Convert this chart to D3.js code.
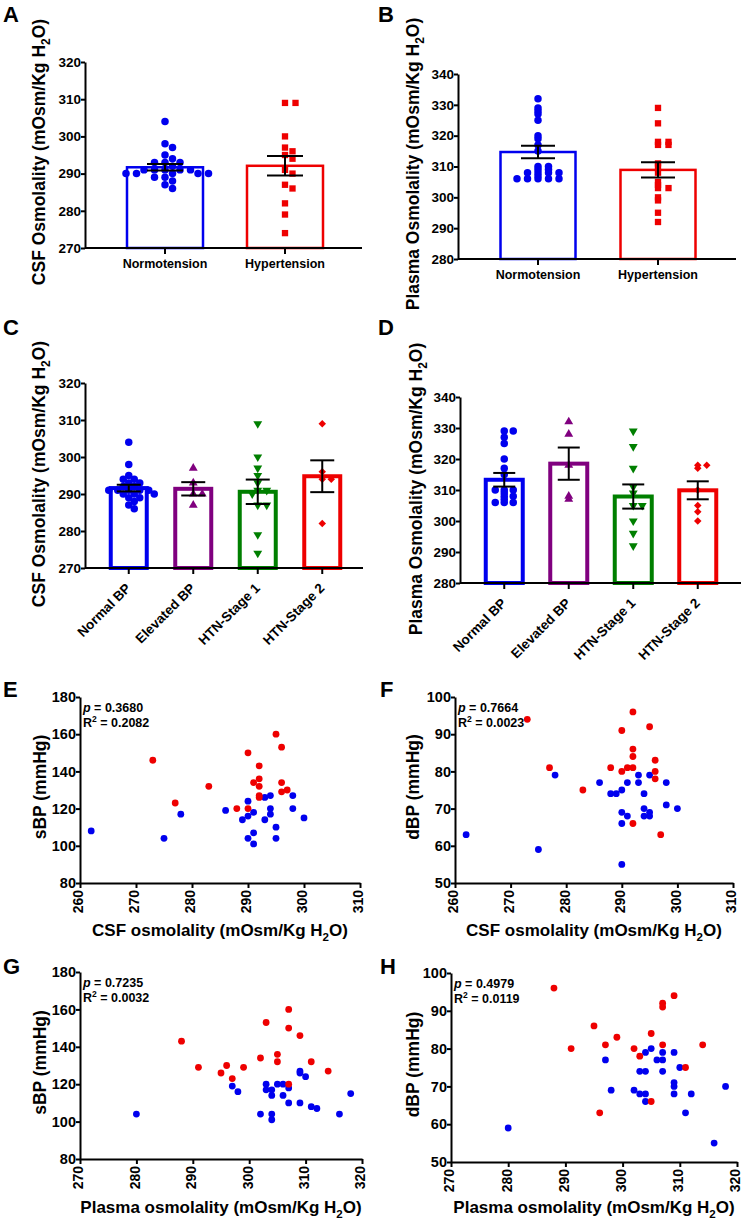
<!DOCTYPE html>
<html>
<head>
<meta charset="utf-8">
<script src="https://cdn.jsdelivr.net/npm/d3@7"></script>
<style>
body { margin: 0; background: #fff; }
svg { display: block; font-family: "Liberation Sans", Arial, sans-serif; font-weight: bold; }
svg text { font-weight: bold; }
</style>
</head>
<body>
<svg id="fig" width="747" height="1225"></svg>
<script>
// ---- values ----
const twoGroups = ["Normotension", "Hypertension"];
const fourGroups = ["Normal BP", "Elevated BP", "HTN-Stage 1", "HTN-Stage 2"];

// A  CSF osmolality by BP status
const csfNormo = [304, 298, 297, 295, 294, 293, 293, 293, 292, 291, 291, 291, 291, 291, 290, 290, 290, 290, 290, 289, 289, 288, 287, 286];
const csfHyper = [309, 309, 300, 297, 296, 295, 294, 291, 290, 287, 286, 282, 279, 274];
const csfMean2 = [291.7, 292.1];
const csfSem2 = [0.9, 2.6];

// B  plasma osmolality by BP status
const plasmaNormo = [332, 329, 328, 327, 325, 320, 319, 317, 315, 310, 310, 309, 309, 308, 308, 308, 308, 307, 306, 306, 306, 306, 306];
const plasmaHyper = [329, 324, 318, 318, 317, 317, 311, 310, 308, 305, 304, 303, 303, 300, 299, 295, 292];
const plasmaMean2 = [314.7, 308.9];
const plasmaSem2 = [2.0, 2.5];

// C  CSF osmolality by BP stage
const csfNormal = [304, 298, 295, 294, 294, 293, 293, 292, 292, 291, 291, 291, 291, 291, 290, 290, 290, 289, 289, 288, 287, 286];
const csfElevated = [297, 293, 290, 290, 287];
const csfStage1 = [309, 300, 297, 295, 293, 291, 291, 290, 287, 287, 279, 274];
const csfStage2 = [309, 296, 294, 294, 282];
const csfMean4 = [291.6, 291.4, 290.6, 294.8];
const csfSem4 = [0.9, 1.8, 3.3, 4.3];

// D  plasma osmolality by BP stage
const plasmaNormal = [329, 329, 327, 325, 320, 317, 315, 310, 310, 310, 309, 308, 308, 307, 306, 306, 306];
const plasmaElevated = [332, 328, 318, 308, 307];
const plasmaStage1 = [329, 324, 317, 311, 309, 305, 305, 300, 296, 292];
const plasmaStage2 = [318, 318, 317, 310, 305, 303, 300];
const plasmaMean4 = [313.3, 318.5, 307.9, 309.9];
const plasmaSem4 = [2.2, 5.2, 3.9, 2.9];

// E  CSF osmolality vs sBP  [osmolality, mmHg]
const csfSbpHyper = [[273,146],[277,123],[283,132],[288,120],[290,150],[290,120],[291,134],[292,143],[292,136],[292,132],[292,127],[292,126],[295,160],[296,153],[296,134],[296,129],[297,130]];
const csfSbpNormo = [[262,108],[275,104],[278,117],[286,119],[289,114],[290,124],[290,116],[290,104],[291,118],[291,107],[291,101],[293,126],[293,114],[294,127],[294,120],[294,117],[295,110],[295,104],[298,127],[298,120],[300,115]];

// F  CSF osmolality vs dBP
const csfDbpHyper = [[273,94],[277,81],[283,75],[288,81],[290,91],[290,80],[291,81],[292,96],[292,86],[292,84],[292,81],[292,66],[295,92],[296,83],[296,80],[296,78],[297,63]];
const csfDbpNormo = [[262,63],[275,59],[278,79],[286,77],[288,74],[289,74],[290,75],[290,69],[290,66],[290,55],[291,77],[291,68],[293,79],[293,77],[294,74],[294,70],[294,68],[295,79],[295,69],[295,68],[298,77],[298,71],[300,70]];

// G  plasma osmolality vs sBP
const plasmaSbpHyper = [[288,143],[291,129],[295,126],[296,130],[297,123],[299,129],[302,134],[303,153],[305,136],[305,132],[307,160],[307,150],[307,120],[309,146],[311,132],[314,127]];
const plasmaSbpNormo = [[280,104],[297,119],[298,116],[302,104],[303,120],[303,117],[304,117],[304,114],[304,104],[304,101],[305,120],[306,120],[306,114],[307,118],[307,110],[309,127],[309,126],[309,110],[310,124],[311,108],[312,107],[316,104],[318,115]];

// H  plasma osmolality vs dBP
const plasmaDbpHyper = [[288,96],[291,80],[295,86],[296,63],[297,81],[299,83],[302,80],[303,78],[305,84],[305,66],[307,92],[307,91],[307,81],[309,94],[311,75],[314,81]];
const plasmaDbpNormo = [[280,59],[297,77],[298,69],[302,69],[303,74],[303,68],[304,79],[304,74],[304,68],[304,66],[305,80],[306,77],[307,79],[307,77],[307,74],[309,79],[309,71],[309,70],[309,68],[310,75],[311,63],[312,68],[316,55],[318,70]];

const stats = {
  E: ["0.3680", "0.2082"], F: ["0.7664", "0.0023"],
  G: ["0.7235", "0.0032"], H: ["0.4979", "0.0119"]
};

// ---- styling ----
const BLUE = "#0000ee", RED = "#ee0000", PURPLE = "#80007f", GREEN = "#007f00";

const svg = d3.select("#fig");
svg.append("rect").attr("width", 747).attr("height", 1225).attr("fill", "#fff");

const symbols = {
  circle: d3.symbol(d3.symbolCircle, 44)(),
  square: d3.symbol(d3.symbolSquare, 40)(),
  triUp: d3.symbol(d3.symbolTriangle, 34)(),
  triDown: d3.symbol(d3.symbolTriangle, 34)(),
  diamond: d3.symbol(d3.symbolSquare, 28)()
};
const symRot = { triDown: 180, diamond: 45 };

function unitTitle(sel, prefix, size) {
  sel.append("tspan").text(prefix + " (mOsm/Kg H");
  sel.append("tspan").attr("font-size", size * 0.68).attr("dy", size * 0.28).text("2");
  sel.append("tspan").attr("dy", -size * 0.28).text("O)");
}

function letter(x, y, t) {
  svg.append("text").attr("x", x).attr("y", y).attr("font-size", 22).text(t);
}

// beeswarm: nudge each point sideways until it clears an ellipse (sx wide, sy tall) round the placed ones
function swarm(vals, y, cx, sx, sy) {
  const placed = [];
  return vals.map(v => {
    const cy = y(v);
    for (let k = 0; k < 400; k++) {
      const dx = (k % 2 ? 1 : -1) * Math.ceil(k / 2) * 0.5;
      const ok = placed.every(p => ((p[0] - cx - dx) / sx) ** 2 + ((p[1] - cy) / sy) ** 2 >= 1);
      if (ok) { placed.push([cx + dx, cy]); return [cx + dx, cy]; }
    }
    return [cx, cy];
  });
}

const barPanels = [
  { letter: "A", lx: 3, ly: 22, left: 85, right: 362, top: 62, bottom: 248, band: [105, 345], barW: 76, sw: 2.5, capW: 36,
    domain: [270, 320], step: 10, groups: twoGroups, series: [csfNormo, csfHyper], means: csfMean2, sems: csfSem2,
    colors: [BLUE, RED], shapes: ["circle", "square"], title: "CSF Osmolality", tx: 39, ty: 152, rotate: false, sx: 10.5, sy: 5 },
  { letter: "B", lx: 378, ly: 22, left: 458, right: 736, top: 74, bottom: 259, band: [478, 718], barW: 75, sw: 2.5, capW: 34,
    domain: [280, 340], step: 10, groups: twoGroups, series: [plasmaNormo, plasmaHyper], means: plasmaMean2, sems: plasmaSem2,
    colors: [BLUE, RED], shapes: ["circle", "square"], title: "Plasma Osmolality", tx: 413, ty: 164, rotate: false, sx: 10.5, sy: 3 },
  { letter: "C", lx: 3, ly: 335, left: 85, right: 363, top: 383, bottom: 568, band: [96.5, 354.5], barW: 36, sw: 4, capW: 24,
    domain: [270, 320], step: 10, groups: fourGroups, series: [csfNormal, csfElevated, csfStage1, csfStage2], means: csfMean4, sems: csfSem4,
    colors: [BLUE, PURPLE, GREEN, RED], shapes: ["circle", "triUp", "triDown", "diamond"], title: "CSF Osmolality", tx: 39, ty: 474, rotate: true, sx: 9, sy: 4.5 },
  { letter: "D", lx: 378, ly: 335, left: 460, right: 741, top: 397, bottom: 583, band: [472, 730], barW: 37, sw: 4, capW: 22,
    domain: [280, 340], step: 10, groups: fourGroups, series: [plasmaNormal, plasmaElevated, plasmaStage1, plasmaStage2], means: plasmaMean4, sems: plasmaSem4,
    colors: [BLUE, PURPLE, GREEN, RED], shapes: ["circle", "triUp", "triDown", "diamond"], title: "Plasma Osmolality", tx: 416, ty: 489, rotate: true, sx: 9, sy: 3 }
];

barPanels.forEach(p => {
  const g = svg.append("g");
  const y = d3.scaleLinear().domain(p.domain).range([p.bottom, p.top]);
  const x = d3.scaleBand().domain(p.groups).range(p.band);
  const cx = d => x(d) + x.bandwidth() / 2;

  // bars
  g.selectAll("rect.bar").data(p.groups).join("rect")
    .attr("class", "bar")
    .attr("x", d => cx(d) - p.barW / 2)
    .attr("width", p.barW)
    .attr("y", (d, i) => y(p.means[i]))
    .attr("height", (d, i) => p.bottom - y(p.means[i]))
    .attr("fill", "#fff")
    .attr("stroke", (d, i) => p.colors[i])
    .attr("stroke-width", p.sw);

  // individual points
  p.groups.forEach((grp, i) => {
    const pos = swarm(p.series[i], y, cx(grp), p.sx, p.sy);
    g.append("g").selectAll("path").data(pos).join("path")
      .attr("d", symbols[p.shapes[i]])
      .attr("transform", d => `translate(${d[0]},${d[1]}) rotate(${symRot[p.shapes[i]] || 0})`)
      .attr("fill", p.colors[i]);
  });

  // mean ± SEM
  p.groups.forEach((grp, i) => {
    const c = cx(grp), hi = y(p.means[i] + p.sems[i]), lo = y(p.means[i] - p.sems[i]);
    const eb = g.append("g").attr("stroke", "#000").attr("stroke-width", 2);
    eb.append("line").attr("x1", c).attr("x2", c).attr("y1", hi).attr("y2", lo);
    eb.append("line").attr("x1", c - p.capW / 2).attr("x2", c + p.capW / 2).attr("y1", hi).attr("y2", hi);
    eb.append("line").attr("x1", c - p.capW / 2).attr("x2", c + p.capW / 2).attr("y1", lo).attr("y2", lo);
  });

  // axes
  const ya = g.append("g").attr("transform", `translate(${p.left},0)`)
    .call(d3.axisLeft(y).tickValues(d3.range(p.domain[0], p.domain[1] + 1, p.step)).tickSize(4).tickSizeOuter(0).tickPadding(0));
  ya.selectAll("text").attr("font-size", 13.5);

  const xa = g.append("g").attr("transform", `translate(0,${p.bottom})`)
    .call(d3.axisBottom(x).tickSize(6).tickSizeOuter(0).tickPadding(5.5));
  xa.select(".domain").attr("d", `M${p.left},0H${p.right}`);
  xa.selectAll("text").attr("font-size", p.rotate ? 13.5 : 12.5);
  if (p.rotate) {
    xa.selectAll("text")
      .attr("x", 0).attr("y", 0).attr("dy", 0)
      .attr("text-anchor", "end")
      .attr("transform", "translate(3,21) rotate(-45)");
  }
  [ya, xa].forEach(a => {
    a.selectAll(".domain, line").attr("stroke", "#000").attr("stroke-width", 2);
    a.selectAll("text").attr("fill", "#000").attr("font-weight", "bold");
    a.attr("font-family", null).attr("font-size", null);
  });

  const t = svg.append("text")
    .attr("transform", `translate(${p.tx},${p.ty}) rotate(-90)`)
    .attr("text-anchor", "middle").attr("dy", "0.35em").attr("font-size", 17.5);
  unitTitle(t, p.title, 17.5);

  letter(p.lx, p.ly, p.letter);
});

const scatterPanels = [
  { letter: "E", lx: 3, ly: 697, left: 80, right: 360, top: 697, bottom: 883, xd: [260, 310], yd: [80, 180], ystep: 20,
    hyper: csfSbpHyper, normo: csfSbpNormo, ylab: "sBP (mmHg)", xlab: "CSF osmolality", ytx: 40, xtb: 936 },
  { letter: "F", lx: 380, ly: 697, left: 455, right: 733, top: 697, bottom: 883, xd: [260, 310], yd: [50, 100], ystep: 10,
    hyper: csfDbpHyper, normo: csfDbpNormo, ylab: "dBP (mmHg)", xlab: "CSF osmolality", ytx: 413, xtb: 936 },
  { letter: "G", lx: 3, ly: 974, left: 80, right: 362, top: 972, bottom: 1159, xd: [270, 320], yd: [80, 180], ystep: 20,
    hyper: plasmaSbpHyper, normo: plasmaSbpNormo, ylab: "sBP (mmHg)", xlab: "Plasma osmolality", ytx: 40, xtb: 1213 },
  { letter: "H", lx: 380, ly: 974, left: 451, right: 737, top: 973, bottom: 1162, xd: [270, 320], yd: [50, 100], ystep: 10,
    hyper: plasmaDbpHyper, normo: plasmaDbpNormo, ylab: "dBP (mmHg)", xlab: "Plasma osmolality", ytx: 413, xtb: 1213 }
];

scatterPanels.forEach(p => {
  const g = svg.append("g");
  const x = d3.scaleLinear().domain(p.xd).range([p.left, p.right]);
  const y = d3.scaleLinear().domain(p.yd).range([p.bottom, p.top]);

  [[p.normo, BLUE], [p.hyper, RED]].forEach(([pts, col]) => {
    g.append("g").selectAll("circle").data(pts).join("circle")
      .attr("cx", d => x(d[0])).attr("cy", d => y(d[1])).attr("r", 3.4).attr("fill", col);
  });

  const ya = g.append("g").attr("transform", `translate(${p.left},0)`)
    .call(d3.axisLeft(y).tickValues(d3.range(p.yd[0], p.yd[1] + 1, p.ystep)).tickSize(4).tickSizeOuter(0).tickPadding(0));
  ya.selectAll("text").attr("font-size", 14.5);

  const xa = g.append("g").attr("transform", `translate(0,${p.bottom})`)
    .call(d3.axisBottom(x).tickValues(d3.range(p.xd[0], p.xd[1] + 1, 10)).tickSize(5).tickSizeOuter(0));
  xa.selectAll("text").attr("font-size", 14)
    .attr("x", 0).attr("y", 0).attr("dy", "0.2em")
    .attr("text-anchor", "end")
    .attr("transform", "translate(0,7) rotate(-90)");
  [ya, xa].forEach(a => {
    a.selectAll(".domain, line").attr("stroke", "#000").attr("stroke-width", 2);
    a.selectAll("text").attr("fill", "#000").attr("font-weight", "bold");
    a.attr("font-family", null).attr("font-size", null);
  });

  // stats
  const st = stats[p.letter];
  const s1 = svg.append("text").attr("x", p.left + 3).attr("y", p.top + 15).attr("font-size", 12.5);
  s1.append("tspan").attr("font-style", "italic").text("p");
  s1.append("tspan").text(" = " + st[0]);
  const s2 = svg.append("text").attr("x", p.left + 3).attr("y", p.top + 30).attr("font-size", 12.5);
  s2.append("tspan").text("R");
  s2.append("tspan").attr("font-size", 8.5).attr("dy", -5).text("2");
  s2.append("tspan").attr("dy", 5).text(" = " + st[1]);

  svg.append("text")
    .attr("transform", `translate(${p.ytx},${(p.top + p.bottom) / 2 - 3}) rotate(-90)`)
    .attr("text-anchor", "middle").attr("dy", "0.35em").attr("font-size", 17.5)
    .text(p.ylab);

  const xt = svg.append("text")
    .attr("x", (p.left + p.right) / 2).attr("y", p.xtb)
    .attr("text-anchor", "middle").attr("font-size", 17);
  unitTitle(xt, p.xlab, 17);

  letter(p.lx, p.ly, p.letter);
});
</script>
</body>
</html>
